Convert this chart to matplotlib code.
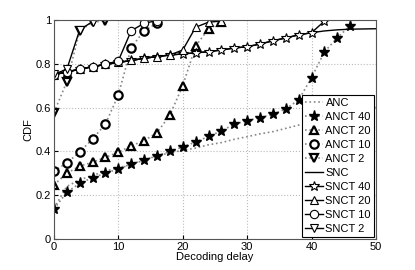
import matplotlib
matplotlib.use('Agg')
import matplotlib.pyplot as plt
import numpy as np

plt.rcParams['font.family'] = ['Liberation Sans', 'DejaVu Sans']

# decoding delay values (markers every 2)
x_all = np.arange(0, 52, 2)

snc = [0.75, 0.763, 0.775, 0.787, 0.797, 0.806, 0.815, 0.825, 0.833, 0.84,
       0.845, 0.85, 0.855, 0.863, 0.872, 0.878, 0.89, 0.905, 0.918, 0.932,
       0.942, 0.95, 0.955, 0.958, 0.959, 0.96]
anc = [0.14, 0.24, 0.27, 0.29, 0.31, 0.325, 0.34, 0.36, 0.38, 0.393,
       0.405, 0.415, 0.43, 0.44, 0.455, 0.467, 0.48, 0.49, 0.505, 0.52,
       0.53, 0.545, 0.56, 0.575, 0.59, 0.6]

snct40_x = np.arange(0, 44, 2)
snct40 = snc[:21] + [0.995]
snct20_x = np.arange(0, 28, 2)
snct20 = snc[:10] + [0.863, 0.967, 0.99, 0.995]
snct10_x = np.arange(0, 18, 2)
snct10 = snc[:5] + [0.814, 0.951, 0.985, 0.997]
snct2_x = np.arange(0, 8, 2)
snct2 = [0.752, 0.775, 0.955, 0.993]

anct40_x = np.arange(0, 48, 2)
anct40 = [0.137, 0.213, 0.254, 0.28, 0.30, 0.32, 0.341, 0.361, 0.38, 0.40,
          0.42, 0.443, 0.468, 0.493, 0.524, 0.54, 0.554, 0.569, 0.594, 0.635,
          0.737, 0.855, 0.919, 0.974]
anct20_x = np.arange(0, 28, 2)
anct20 = [0.247, 0.30, 0.333, 0.35, 0.373, 0.396, 0.425, 0.449, 0.485, 0.566,
          0.70, 0.881, 0.959, 0.99]
anct10_x = np.arange(0, 18, 2)
anct10 = [0.31, 0.347, 0.397, 0.457, 0.525, 0.658, 0.874, 0.951, 0.985]
anct2_x = np.arange(0, 10, 2)
anct2 = [0.577, 0.718, 0.95, 0.99, 0.997]

fig = plt.figure(figsize=(4.15, 2.7), dpi=100)
ax = fig.add_axes([0.130, 0.115, 0.776, 0.811])

gray = '#888888'
ms = 6
# ANC family: grey dotted lines, heavy black markers
ax.plot(x_all, anc, ':', color=gray, lw=1.2, label='ANC')
ax.plot(anct40_x, anct40, ':', color=gray, lw=1.2, marker='*', ms=8,
        mfc='k', mec='k', label='ANCT 40')
ax.plot(anct20_x, anct20, ':', color=gray, lw=1.2, marker='^', ms=ms,
        mfc='w', mec='k', mew=1.6, label='ANCT 20')
ax.plot(anct10_x, anct10, ':', color=gray, lw=1.2, marker='o', ms=ms,
        mfc='w', mec='k', mew=1.6, label='ANCT 10')
ax.plot(anct2_x, anct2, ':', color=gray, lw=1.2, marker='v', ms=ms,
        mfc='w', mec='k', mew=1.6, label='ANCT 2')

# SNC family: black solid lines, thin open markers
ax.plot(x_all, snc, '-', color='k', lw=1.0, label='SNC')
ax.plot(snct40_x, snct40, '-', color='k', lw=1.0, marker='*', ms=7,
        mfc='w', mec='k', mew=0.8, label='SNCT 40')
ax.plot(snct20_x, snct20, '-', color='k', lw=1.0, marker='^', ms=ms,
        mfc='w', mec='k', mew=0.8, label='SNCT 20')
ax.plot(snct10_x, snct10, '-', color='k', lw=1.0, marker='o', ms=ms,
        mfc='w', mec='k', mew=0.8, label='SNCT 10')
ax.plot(snct2_x, snct2, '-', color='k', lw=1.0, marker='v', ms=ms,
        mfc='w', mec='k', mew=0.8, label='SNCT 2')

ax.set_xlim(0, 50)
ax.set_ylim(0, 1)
ax.set_xticks([0, 10, 20, 30, 40, 50])
ax.set_yticks([0, 0.2, 0.4, 0.6, 0.8, 1])
ax.set_yticklabels(['0', '0.2', '0.4', '0.6', '0.8', '1'])
ax.tick_params(direction='in', labelsize=8, length=3, pad=2)
ax.grid(True, ls=':', color='#bbbbbb', lw=0.8)
for s in ax.spines.values():
    s.set_color('#555555')
ax.set_xlabel('Decoding delay', fontsize=8, labelpad=0)
ax.set_ylabel('CDF', fontsize=8, labelpad=2)

leg = ax.legend(loc='lower right', fontsize=8, handlelength=1.6,
                handletextpad=0.2, labelspacing=0.36, borderpad=0.3,
                borderaxespad=0.15, fancybox=False, framealpha=1)
leg.get_frame().set_edgecolor('k')
leg.get_frame().set_linewidth(0.8)

fig.savefig('out.png', dpi=100)
